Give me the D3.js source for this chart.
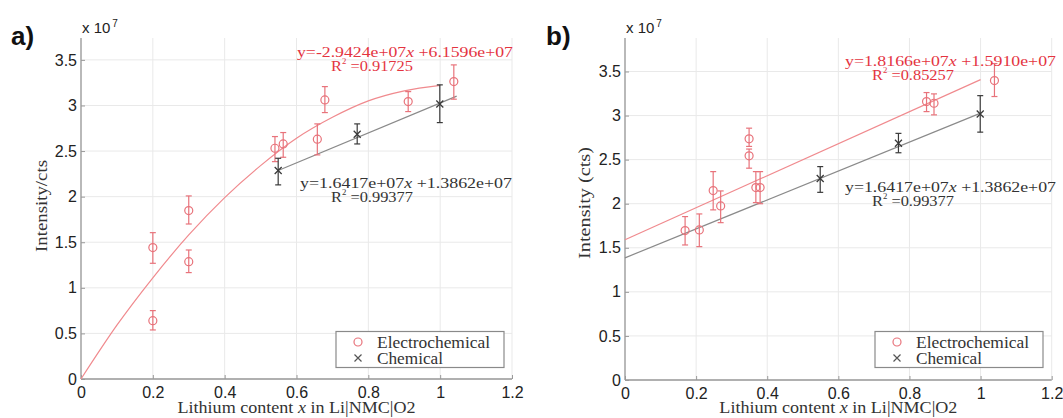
<!DOCTYPE html>
<html>
<head>
<meta charset="utf-8">
<script src="https://d3js.org/d3.v7.min.js"></script>
<style>
  body { margin: 0; background: #fff; }
  svg { display: block; }
</style>
</head>
<body>
<svg width="1063" height="418"></svg>
<script>
// values are in units of 1e7 counts
var xTicks = [0, 0.2, 0.4, 0.6, 0.8, 1, 1.2];
var yTicks = [0, 0.5, 1, 1.5, 2, 2.5, 3, 3.5];
var xTickLabels = ["0", "0.2", "0.4", "0.6", "0.8", "1", "1.2"];
var yTickLabels = ["0", "0.5", "1", "1.5", "2", "2.5", "3", "3.5"];

// panel a - electrochemical
var aElecX  = [0.2, 0.2, 0.3, 0.3, 0.54, 0.563, 0.658, 0.679, 0.911, 1.038];
var aElecY  = [0.64, 1.441, 1.287, 1.847, 2.531, 2.578, 2.63, 3.061, 3.043, 3.262];
var aElecLo = [0.538, 1.269, 1.167, 1.70, 2.384, 2.432, 2.458, 2.922, 2.933, 3.069];
var aElecHi = [0.75, 1.605, 1.415, 2.008, 2.659, 2.703, 2.798, 3.207, 3.152, 3.445];
// panel a - fitted curve through electrochemical points
var aCurveX = [0, 0.1, 0.2, 0.3, 0.4, 0.5, 0.6, 0.7, 0.8, 0.9, 1.0];
var aCurveY = [0, 0.59, 1.11, 1.58, 1.99, 2.34, 2.64, 2.87, 3.05, 3.16, 3.22];

// chemical (same in both panels)
var chemX  = [0.549, 0.769, 0.999];
var chemY  = [2.286, 2.685, 3.017];
var chemLo = [2.129, 2.578, 2.812];
var chemHi = [2.421, 2.798, 3.226];
var aChemFitX = [0.549, 1.046];
var aChemFitY = [2.287, 3.103];

// panel b - electrochemical
var bElecX  = [0.169, 0.209, 0.248, 0.269, 0.349, 0.349, 0.368, 0.380, 0.848, 0.869, 1.039];
var bElecY  = [1.695, 1.703, 2.149, 1.975, 2.736, 2.543, 2.183, 2.183, 3.159, 3.14, 3.397];
var bElecLo = [1.532, 1.513, 1.93, 1.785, 2.65, 2.403, 2.013, 2.0, 3.045, 3.008, 3.216];
var bElecHi = [1.854, 1.884, 2.364, 2.145, 2.857, 2.62, 2.364, 2.364, 3.261, 3.246, 3.59];
var bElecFitX = [0, 1.0];
var bElecFitY = [1.591, 3.408];
var bChemFitX = [0, 1.0];
var bChemFitY = [1.386, 3.028];

var red = "#e8737b", redText = "#e4343f", redLine = "#f08a8e";
var dark = "#3a3a3a", greyLine = "#8a8a8a";
var serif = "'Liberation Serif', 'DejaVu Serif', serif";
var sans = "'Liberation Sans', Arial, sans-serif";
var crossPath = "M-3.5,-3.5L3.5,3.5M-3.5,3.5L3.5,-3.5";

var svg = d3.select("svg");

function zip(xs, ys) { return xs.map(function(v, i) { return [v, ys[i]]; }); }

function drawPanel(p) {
  var x = d3.scaleLinear().domain([0, 1.2]).range([p.left, p.right]);
  var y = d3.scaleLinear().domain([0, p.ymax]).range([p.bottom, p.top]);
  var g = svg.append("g");

  // grid
  g.selectAll(".vg").data(xTicks).enter().append("line")
    .attr("x1", function(d) { return x(d); }).attr("x2", function(d) { return x(d); })
    .attr("y1", p.top).attr("y2", p.bottom)
    .attr("stroke", "#e9e9e9").attr("stroke-width", 1);
  g.selectAll(".hg").data(yTicks).enter().append("line")
    .attr("x1", p.left).attr("x2", p.right)
    .attr("y1", function(d) { return y(d); }).attr("y2", function(d) { return y(d); })
    .attr("stroke", "#e9e9e9").attr("stroke-width", 1);

  // axes
  var xa = g.append("g").attr("transform", "translate(0," + p.bottom + ")")
    .call(d3.axisBottom(x).tickValues(xTicks).tickSizeInner(-4).tickSizeOuter(0).tickPadding(8)
      .tickFormat(function(d, i) { return xTickLabels[i]; }));
  var ya = g.append("g").attr("transform", "translate(" + p.left + ",0)")
    .call(d3.axisLeft(y).tickValues(yTicks).tickSizeInner(-4).tickSizeOuter(0).tickPadding(4)
      .tickFormat(function(d, i) { return yTickLabels[i]; }));
  [xa, ya].forEach(function(a) {
    a.select(".domain").attr("stroke", "#9a9a9a").attr("stroke-width", 1.3);
    a.selectAll(".tick line").attr("stroke", "#9a9a9a");
    a.selectAll(".tick text").attr("font-family", sans).attr("font-size", 16).attr("fill", "#222");
  });
  ya.select(".domain").attr("d", "M0," + p.bottom + "V" + p.top);
  xa.select(".domain").attr("d", "M" + p.left + ",0H" + p.right);

  // exponent label
  var ex = g.append("text").attr("x", p.left + 1).attr("y", 33)
    .attr("font-family", sans).attr("font-size", 15).attr("fill", "#222");
  ex.append("tspan").text("x 10");
  ex.append("tspan").attr("font-size", 10).attr("dy", -6).attr("dx", 2).text("7");

  // panel letter
  g.append("text").attr("x", p.letterX).attr("y", 45)
    .attr("font-family", sans).attr("font-weight", "bold").attr("font-size", 26)
    .attr("fill", "#111").text(p.letter);

  // axis labels
  var xl = g.append("text").attr("x", (p.left + p.right) / 2).attr("y", 413)
    .attr("text-anchor", "middle").attr("font-family", serif).attr("font-size", 17)
    .attr("fill", "#333").attr("textLength", 238).attr("lengthAdjust", "spacingAndGlyphs");
  xl.append("tspan").text("Lithium content ");
  xl.append("tspan").attr("font-style", "italic").text("x");
  xl.append("tspan").text(" in Li|NMC|O2");

  g.append("text")
    .attr("transform", "translate(" + p.ylabX + "," + p.ylabY + ") rotate(-90)")
    .attr("text-anchor", "middle").attr("font-family", serif).attr("font-size", 17)
    .attr("fill", "#333").attr("textLength", p.ylabLen).attr("lengthAdjust", "spacingAndGlyphs")
    .text(p.ylabel);

  // fitted lines
  p.fits.forEach(function(f) {
    var line = d3.line().x(function(d) { return x(d[0]); }).y(function(d) { return y(d[1]); })
      .curve(d3.curveMonotoneX);
    g.append("path").datum(zip(f.xs, f.ys)).attr("d", line)
      .attr("fill", "none").attr("stroke", f.color).attr("stroke-width", 1.2);
  });

  // error bars + markers
  function errorBars(xs, lo, hi, color) {
    var pts = xs.map(function(v, i) { return { x: v, lo: lo[i], hi: hi[i] }; });
    var eb = g.append("g").attr("stroke", color).attr("stroke-width", 1.2).attr("fill", "none");
    eb.selectAll(".v").data(pts).enter().append("line")
      .attr("x1", function(d) { return x(d.x); }).attr("x2", function(d) { return x(d.x); })
      .attr("y1", function(d) { return y(d.lo); }).attr("y2", function(d) { return y(d.hi); });
    ["lo", "hi"].forEach(function(k) {
      eb.selectAll(".c" + k).data(pts).enter().append("line")
        .attr("x1", function(d) { return x(d.x) - 3; }).attr("x2", function(d) { return x(d.x) + 3; })
        .attr("y1", function(d) { return y(d[k]); }).attr("y2", function(d) { return y(d[k]); });
    });
  }
  errorBars(p.elecX, p.elecLo, p.elecHi, red);
  errorBars(chemX, chemLo, chemHi, dark);

  g.selectAll(".circ").data(zip(p.elecX, p.elecY)).enter().append("circle")
    .attr("cx", function(d) { return x(d[0]); }).attr("cy", function(d) { return y(d[1]); })
    .attr("r", 4).attr("fill", "none").attr("stroke", red).attr("stroke-width", 1.2);

  g.selectAll(".cross").data(zip(chemX, chemY)).enter().append("path")
    .attr("transform", function(d) { return "translate(" + x(d[0]) + "," + y(d[1]) + ")"; })
    .attr("d", crossPath).attr("fill", "none").attr("stroke", dark).attr("stroke-width", 1.3);

  // equations
  p.eqs.forEach(function(e) {
    var t = g.append("text").attr("x", e.x).attr("y", e.y)
      .attr("font-family", serif).attr("font-size", 15).attr("fill", e.color)
      .attr("textLength", e.len).attr("lengthAdjust", "spacingAndGlyphs");
    t.append("tspan").text(e.a);
    t.append("tspan").attr("font-style", "italic").text("x");
    t.append("tspan").text("  " + e.b);
    var r = g.append("text").attr("x", e.rx).attr("y", e.y + 14)
      .attr("font-family", serif).attr("font-size", 15).attr("fill", e.color)
      .attr("textLength", 82).attr("lengthAdjust", "spacingAndGlyphs");
    r.append("tspan").text("R");
    r.append("tspan").attr("font-size", 8).attr("dy", -7).text("2");
    r.append("tspan").attr("dy", 7).text(" =" + e.r2);
  });

  // legend
  var lg = g.append("g");
  lg.append("rect").attr("x", p.legX).attr("y", 331.5).attr("width", 168).attr("height", 36)
    .attr("fill", "#fff").attr("stroke", "#8a8a8a").attr("stroke-width", 1.2);
  lg.append("circle").attr("cx", p.legX + 22).attr("cy", 342).attr("r", 4)
    .attr("fill", "none").attr("stroke", red).attr("stroke-width", 1.2);
  lg.append("path").attr("transform", "translate(" + (p.legX + 22) + ",358)")
    .attr("d", crossPath).attr("fill", "none").attr("stroke", "#555").attr("stroke-width", 1.2);
  lg.append("text").attr("x", p.legX + 41).attr("y", 347.5)
    .attr("font-family", serif).attr("font-size", 16).attr("fill", "#333")
    .attr("textLength", 113).attr("lengthAdjust", "spacingAndGlyphs").text("Electrochemical");
  lg.append("text").attr("x", p.legX + 41).attr("y", 364)
    .attr("font-family", serif).attr("font-size", 16).attr("fill", "#333")
    .attr("textLength", 66).attr("lengthAdjust", "spacingAndGlyphs").text("Chemical");
}

drawPanel({
  letter: "a)", letterX: 11,
  left: 81, right: 512, top: 38, bottom: 379, ymax: 3.74,
  ylabel: "Intensity/cts", ylabX: 47, ylabY: 206, ylabLen: 92,
  elecX: aElecX, elecY: aElecY, elecLo: aElecLo, elecHi: aElecHi,
  fits: [
    { xs: aCurveX, ys: aCurveY, color: redLine },
    { xs: aChemFitX, ys: aChemFitY, color: greyLine }
  ],
  eqs: [
    { x: 297, rx: 331, y: 57, len: 216, color: redText, a: "y=-2.9424e+07", b: "+6.1596e+07", r2: "0.91725" },
    { x: 300, rx: 331, y: 188, len: 212, color: "#333", a: "y=1.6417e+07", b: "+1.3862e+07", r2: "0.99377" }
  ],
  legX: 336
});

drawPanel({
  letter: "b)", letterX: 546,
  left: 625, right: 1051.7, top: 38, bottom: 380, ymax: 3.88,
  ylabel: "Intensity (cts)", ylabX: 590, ylabY: 203, ylabLen: 112,
  elecX: bElecX, elecY: bElecY, elecLo: bElecLo, elecHi: bElecHi,
  fits: [
    { xs: bElecFitX, ys: bElecFitY, color: redLine },
    { xs: bChemFitX, ys: bChemFitY, color: greyLine }
  ],
  eqs: [
    { x: 845, rx: 872, y: 66, len: 211, color: redText, a: "y=1.8166e+07", b: "+1.5910e+07", r2: "0.85257" },
    { x: 845, rx: 872, y: 192, len: 211, color: "#333", a: "y=1.6417e+07", b: "+1.3862e+07", r2: "0.99377" }
  ],
  legX: 875
});
</script>
</body>
</html>
